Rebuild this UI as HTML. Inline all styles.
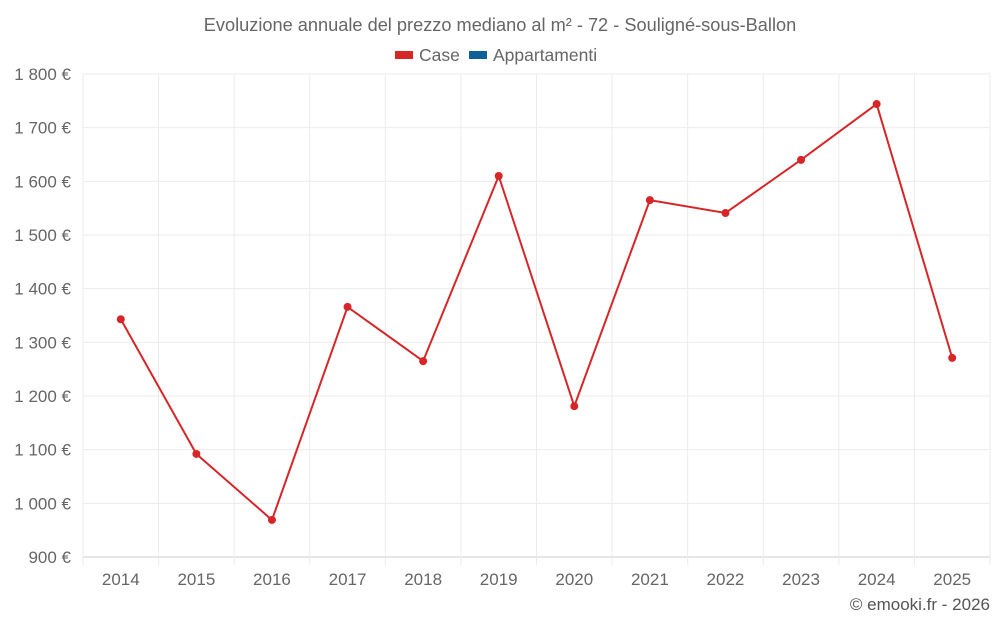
<!DOCTYPE html>
<html><head><meta charset="utf-8">
<style>
body{margin:0;background:#fff;font-family:"Liberation Sans",sans-serif;}
svg text{font-family:"Liberation Sans",sans-serif;}
</style></head>
<body>
<svg id="chart" width="1000" height="625" xmlns="http://www.w3.org/2000/svg">
<text x="500" y="31" text-anchor="middle" font-size="18.2" fill="#666">Evoluzione annuale del prezzo mediano al m² - 72 - Souligné-sous-Ballon</text>
<g>
<rect x="395" y="51" width="18" height="8" fill="#d62628"/>
<text x="419" y="61" font-size="17.5" fill="#666">Case</text>
<rect x="469" y="51" width="18" height="8" fill="#0d6098"/>
<text x="493" y="61" font-size="17.5" fill="#666">Appartamenti</text>
</g>
<g id="grid"></g>
<g id="axes"></g>
<g id="series"></g>
<text x="990" y="610" text-anchor="end" font-size="17" fill="#555">© emooki.fr - 2026</text>
</svg>
<script>
const categories=["2014","2015","2016","2017","2018","2019","2020","2021","2022","2023","2024","2025"];
const caseValues=[1343,1092,969,1366,1265,1610,1181,1565,1541,1640,1744,1271];
const yTicks=[900,1000,1100,1200,1300,1400,1500,1600,1700,1800];
const yTickLabels=["900 €","1 000 €","1 100 €","1 200 €","1 300 €","1 400 €","1 500 €","1 600 €","1 700 €","1 800 €"];
const NS="http://www.w3.org/2000/svg";
const L=83,R=990,T=74,B=557,yMin=900,yMax=1800;
const band=(R-L)/categories.length;
function x(i){return L+band*(i+0.5);}
function y(v){return B-(v-yMin)/(yMax-yMin)*(B-T);}
function mk(tag,attrs,parent){const e=document.createElementNS(NS,tag);for(const k in attrs)e.setAttribute(k,attrs[k]);parent.appendChild(e);return e;}
const grid=document.getElementById('grid'),axes=document.getElementById('axes'),series=document.getElementById('series');
yTicks.forEach((t,i)=>{
 const g=mk('line',{x1:L,x2:R,y1:y(t),y2:y(t),stroke:t===yMin?'#ccc':'#ebebeb','stroke-width':1},grid);
 
 
 const tx=mk('text',{x:71,y:y(t)+6,'text-anchor':'end','font-size':17,fill:'#666'},axes);
 tx.textContent=yTickLabels[i];
 
 
});
for(let i=0;i<=categories.length;i++){
 const gx=L+band*i;
 const g=mk('line',{x1:gx,x2:gx,y1:T,y2:B+8,stroke:'#ebebeb','stroke-width':1},grid);
 
 
}
categories.forEach((c,i)=>{
 const tx=mk('text',{x:x(i),y:585,'text-anchor':'middle','font-size':17,fill:'#666'},axes);
 tx.textContent=c;
 
 
});
const pts=caseValues.map((v,i)=>x(i)+','+y(v)).join(' ');
const pl=mk('polyline',{points:pts,fill:'none',stroke:'#d62628','stroke-width':2},series);


caseValues.forEach((v,i)=>{
 const c=mk('circle',{cx:x(i),cy:y(v),r:4,fill:'#d62628'},series);
 
 
});
</script>
</body></html>
